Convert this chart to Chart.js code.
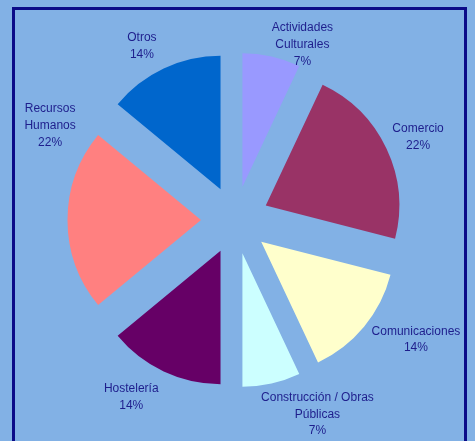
<!DOCTYPE html>
<html lang="es">
<head>
<meta charset="UTF-8">
<title>Distribución por sector</title>
<style>
    html, body { margin: 0; padding: 0; background: #82b1e5; }
    #wrap { position: relative; width: 475px; height: 441px; overflow: hidden; }
    /* marco azul oscuro, el borde inferior queda fuera de la imagen */
    #frame {
        position: absolute; left: 12px; top: 7px;
        width: 449px; height: 480px;
        border: 3px solid #0b0b88;
    }
    #chart { position: absolute; left: 0; top: 0; }
</style>
</head>
<body>
<div id="wrap">
    <div id="frame"></div>
    <canvas id="chart" width="475" height="441"></canvas>
</div>
<script src="https://cdn.jsdelivr.net/npm/chart.js"></script>
<script>
// datos
const sectors = [
    ['Actividades', 'Culturales'],
    'Comercio',
    'Comunicaciones',
    ['Construcción / Obras', 'Públicas'],
    'Hostelería',
    ['Recursos', 'Humanos'],
    'Otros'
];
const shares = [7, 22, 14, 7, 14, 22, 14];
const sliceColors = ['#9999ff', '#993366', '#ffffcc', '#ccffff', '#660066', '#ff8080', '#0066cc'];

const RADIUS = 133.5;
const EXPLODE = 34; // separación de cada porción en px

// posición de las etiquetas: ángulo (grados, desde arriba, sentido horario) y distancia al centro
const labelAngle = [21, 65.6, 123.5, 157, 210.4, 297, 331.8];
const labelDist = [188, 201, 217, 211, 205, 207.5, 197];

// el offset de Chart.js deforma las porciones pequeñas, así que
// se desplaza el centro de cada porción a mano (sin cambiar ángulos ni radio)
const explode = {
    id: 'explode',
    afterDatasetsUpdate(chart) {
        chart.getDatasetMeta(0).data.forEach(arc => {
            const mid = (arc.startAngle + arc.endAngle) / 2;
            arc.cx0 = arc.x;
            arc.cy0 = arc.y;
            arc.x += Math.cos(mid) * EXPLODE;
            arc.y += Math.sin(mid) * EXPLODE;
        });
    }
};

const sliceLabels = {
    id: 'sliceLabels',
    afterDraw(chart) {
        const ctx = chart.ctx;
        const meta = chart.getDatasetMeta(0);
        const total = shares.reduce((a, b) => a + b, 0);
        ctx.save();
        ctx.font = '12px "Liberation Sans", Arial, sans-serif';
        ctx.fillStyle = '#1e1e8c';
        ctx.textAlign = 'center';
        ctx.textBaseline = 'middle';
        meta.data.forEach((arc, i) => {
            const a = labelAngle[i] * Math.PI / 180;
            const x = arc.cx0 + Math.sin(a) * labelDist[i];
            const y = arc.cy0 - Math.cos(a) * labelDist[i];
            const name = Array.isArray(sectors[i]) ? sectors[i] : [sectors[i]];
            const lines = name.concat(Math.round(shares[i] / total * 100) + '%');
            const lh = 16.8;
            const y0 = y - (lines.length - 1) * lh / 2;
            lines.forEach((t, k) => ctx.fillText(t, x, y0 + k * lh));
        });
        ctx.restore();
    }
};

new Chart(document.getElementById('chart'), {
    type: 'pie',
    data: {
        labels: sectors,
        datasets: [{
            data: shares,
            backgroundColor: sliceColors,
            borderWidth: 0,
            radius: RADIUS
        }]
    },
    options: {
        responsive: false,
        animation: false,
        layout: { padding: { left: 0, right: 5, top: 0, bottom: 1 } },
        plugins: {
            legend: { display: false },
            tooltip: { enabled: false }
        }
    },
    plugins: [explode, sliceLabels]
});
</script>
</body>
</html>
